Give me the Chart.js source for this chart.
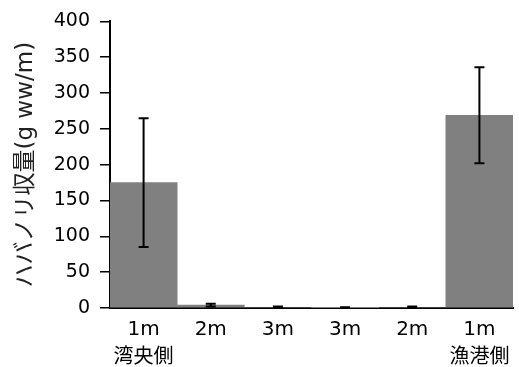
<!DOCTYPE html>
<html>
<head>
<meta charset="utf-8">
<script src="https://cdn.jsdelivr.net/npm/chart.js@4/dist/chart.umd.min.js"></script>
<style>
  html, body { margin: 0; padding: 0; background: #fff; }
  #wrap { width: 519px; height: 367px; }
</style>
</head>
<body>
<div id="wrap"><canvas id="chart"></canvas></div>
<script>
// Data
const depths = ['1m', '2m', '3m', '3m', '2m', '1m'];
const sides = ['湾央側', '', '', '', '', '漁港側'];
const yields = [175, 4, 1, 0.5, 1, 269];
const errors = [90, 2, 1, 0.5, 1, 67];
const yTicks = [0, 50, 100, 150, 200, 250, 300, 350, 400];

const FONT = "'DejaVu Sans', 'Noto Sans CJK JP', sans-serif";

// Error bars drawn through the y scale
const errorBars = {
    id: 'errorBars',
    afterDatasetsDraw(chart) {
        const ctx = chart.ctx;
        const y = chart.scales.y;
        const meta = chart.getDatasetMeta(0);
        ctx.save();
        ctx.strokeStyle = '#000';
        ctx.lineWidth = 2;
        meta.data.forEach((bar, i) => {
            const x = bar.x;
            const top = y.getPixelForValue(yields[i] + errors[i]);
            const bot = y.getPixelForValue(Math.max(0, yields[i] - errors[i]));
            ctx.beginPath();
            ctx.moveTo(x, top); ctx.lineTo(x, bot);
            ctx.moveTo(x - 5, top); ctx.lineTo(x + 5, top);
            ctx.moveTo(x - 5, bot); ctx.lineTo(x + 5, bot);
            ctx.stroke();
        });
        ctx.restore();
    }
};

new Chart(document.getElementById('chart'), {
    type: 'bar',
    data: {
        labels: depths.map((d, i) => [d, sides[i]]),
        datasets: [{
            data: yields,
            backgroundColor: '#808080',
            categoryPercentage: 1.0,
            barPercentage: 1.0
        }]
    },
    options: {
        responsive: true,
        maintainAspectRatio: false,
        animation: false,
        layout: { padding: { left: 0, right: 6, top: 4, bottom: 0 } },
        plugins: {
            legend: { display: false },
            tooltip: { enabled: false }
        },
        scales: {
            x: {
                grid: { display: false },
                border: { display: true, color: '#000', width: 2 },
                afterFit: (axis) => { axis.height = 59; },
                ticks: {
                    color: '#000',
                    maxRotation: 0,
                    autoSkip: false,
                    padding: 0,
                    font: { family: FONT, size: 20, lineHeight: 1.4 },
                    callback: function (v, i) { return [depths[i], sides[i]]; }
                }
            },
            y: {
                min: 0,
                max: 400,
                afterBuildTicks: (axis) => { axis.ticks = yTicks.map(v => ({ value: v })); },
                afterFit: (axis) => { axis.width = 110; },
                grid: { drawOnChartArea: false, drawTicks: true, tickLength: 10, color: '#000', lineWidth: 1.5 },
                border: { display: true, color: '#000', width: 2 },
                ticks: {
                    color: '#000',
                    padding: 10,
                    font: { family: FONT, size: 19 }
                },
                title: {
                    display: true,
                    text: 'ハバノリ収量(g ww/m)',
                    color: '#222',
                    padding: { top: 12, bottom: 0 },
                    font: { family: FONT, size: 23 }
                }
            }
        }
    },
    plugins: [errorBars]
});
</script>
</body>
</html>
